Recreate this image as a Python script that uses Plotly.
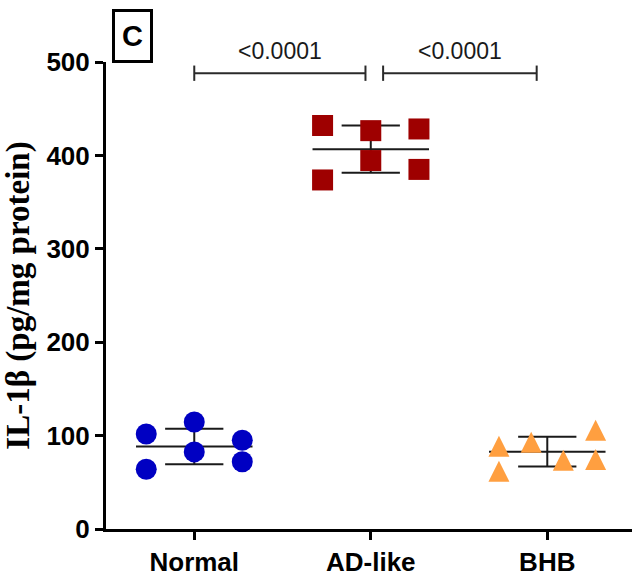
import numpy as np
import plotly.graph_objects as go

# IL-1beta levels per group (pg/mg protein)
groups = ["Normal", "AD-like", "BHB"]
normal = [101.7, 64.0, 114.6, 82.5, 95.0, 72.0]
ad_like = [432.0, 373.7, 426.5, 394.5, 428.3, 385.0]
bhb = [88.5, 61.8, 93.0, 73.5, 105.7, 74.4]
y_ticks = [0, 100, 200, 300, 400, 500]
p_labels = ["<0.0001", "<0.0001"]

# horizontal scatter of the points around each group position
jitter = {
    0: [-0.272, -0.272, 0.0, 0.0, 0.272, 0.272],
    1: [-0.273, -0.273, 0.0, 0.0, 0.273, 0.273],
    2: [-0.274, -0.274, -0.091, 0.091, 0.274, 0.274],
}

series = [
    (normal, dict(symbol="circle", color="#0000C2", size=21)),
    (ad_like, dict(symbol="square", color="#9E0000", size=21)),
    (bhb, dict(symbol="arrow-down", angle=180, standoff=10.5, color="#FF9F40", size=21)),
]

fig = go.Figure()

MEAN_HALF = 0.33
CAP_HALF = 0.165
line_style = dict(color="#1a1a1a", width=2)

# mean and SD lines, drawn underneath the points
for gi, (vals, _) in enumerate(series):
    m = float(np.mean(vals))
    sd = float(np.std(vals, ddof=1))
    xs = [gi - MEAN_HALF, gi + MEAN_HALF, None,
          gi - CAP_HALF, gi + CAP_HALF, None,
          gi - CAP_HALF, gi + CAP_HALF, None,
          gi, gi]
    ys = [m, m, None,
          m + sd, m + sd, None,
          m - sd, m - sd, None,
          m - sd, m + sd]
    fig.add_trace(go.Scatter(x=xs, y=ys, mode="lines", line=line_style,
                             hoverinfo="skip", showlegend=False))

for gi, (vals, mk) in enumerate(series):
    xs = [gi + j for j in jitter[gi]]
    fig.add_trace(go.Scatter(x=xs, y=vals, mode="markers",
                             marker=dict(line=dict(width=0), **mk),
                             showlegend=False, name=groups[gi],
                             cliponaxis=False))

# significance brackets
brackets = [(0.0, 0.97), (1.07, 1.94)]
BR_Y = 488
TICK_H = 8.2
for (x0, x1), lab in zip(brackets, p_labels):
    for sh in [dict(x0=x0, x1=x1, y0=BR_Y, y1=BR_Y),
               dict(x0=x0, x1=x0, y0=BR_Y - TICK_H, y1=BR_Y + TICK_H),
               dict(x0=x1, x1=x1, y0=BR_Y - TICK_H, y1=BR_Y + TICK_H)]:
        fig.add_shape(type="line", xref="x", yref="y",
                      line=dict(color="#2a2a2a", width=2), **sh)
    fig.add_annotation(x=(x0 + x1) / 2, y=1.024, xref="x", yref="paper",
                       text=lab.replace("<", "&lt;"), showarrow=False,
                       xanchor="center", yanchor="middle",
                       font=dict(family="Liberation Sans, Arial", size=23, color="#1a1a1a"))

# panel letter
fig.add_annotation(x=0.0513, y=1.055, xref="paper", yref="paper",
                   text="<b>C</b>", showarrow=False,
                   xanchor="center", yanchor="middle",
                   width=35, height=48, borderpad=0,
                   bordercolor="black", borderwidth=3,
                   font=dict(family="Liberation Sans, Arial", size=29, color="black"))

tick_font = dict(family="Liberation Sans, Arial", size=26, color="black", weight="bold")

fig.update_layout(
    width=632, height=576,
    margin=dict(l=106, r=0, t=62, b=47),
    plot_bgcolor="white", paper_bgcolor="white",
    xaxis=dict(
        range=[-0.5, 2.48], tickmode="array", tickvals=[0, 1, 2], ticktext=groups,
        showline=True, linecolor="black", linewidth=3,
        ticks="outside", ticklen=8, tickwidth=3, tickcolor="black",
        showgrid=False, zeroline=False, tickfont=tick_font,
    ),
    yaxis=dict(
        range=[0, 500], tickmode="array", tickvals=y_ticks,
        showline=True, linecolor="black", linewidth=3,
        ticks="outside", ticklen=8, tickwidth=3, tickcolor="black",
        showgrid=False, zeroline=False, tickfont=tick_font,
        title=dict(text="IL-1β (pg/mg protein)", standoff=10,
                   font=dict(family="Liberation Serif, Times New Roman", size=33,
                             color="black", weight="bold")),
    ),
)

fig.write_html("out.html")
